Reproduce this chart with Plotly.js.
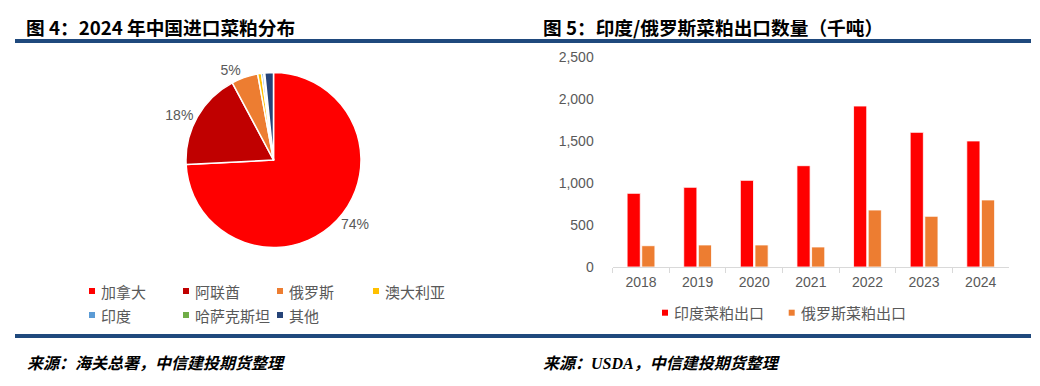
<!DOCTYPE html>
<html><head><meta charset="utf-8">
<script src="https://cdn.plot.ly/plotly-3.0.1.min.js"></script>
<style>html,body{margin:0;padding:0;background:#fff;} #chart{width:1040px;height:386px;}</style>
</head><body><div id="chart"></div>
<script>
// ---- data ----
const pieCategories = ['加拿大','阿联酋','俄罗斯','澳大利亚','印度','哈萨克斯坦','其他'];
const pieShares = [74.2, 18.0, 4.9, 0.7, 0.4, 0.2, 1.6];
const pieLabelShown = [true, true, true, false, false, false, false];
const pieColors = ['#FF0000','#C00000','#ED7D31','#FFC000','#5B9BD5','#70AD47','#264478'];

const years = ['2018','2019','2020','2021','2022','2023','2024'];
const indiaExports = [879, 951, 1034, 1209, 1921, 1607, 1504];
const russiaExports = [254, 263, 263, 239, 680, 605, 800];
const barSeriesNames = ['印度菜粕出口','俄罗斯菜粕出口'];
const barColors = ['#FF0000','#ED7D31'];
const yTicks = [0, 500, 1000, 1500, 2000, 2500];

const leftTitle = '图 4：2024 年中国进口菜粕分布';
const rightTitle = '图 5：印度/俄罗斯菜粕出口数量（千吨）';
const leftSource = '来源：海关总署，中信建投期货整理';
const rightSource = '来源：USDA，中信建投期货整理';

// ---- helpers (pixel -> paper) ----
const W = 1040, H = 386;
const X = px => px / W;
const Y = py => 1 - py / H;

const CJK = 'Noto Sans CJK SC, sans-serif';
const GRAY = '#595959';
const BLUE = '#1F497D';

const traces = [
  {
    type: 'pie', labels: pieCategories, values: pieShares,
    sort: false, direction: 'clockwise', rotation: 0,
    marker: {colors: pieColors, line: {color: '#ffffff', width: 1.5}},
    texttemplate: pieLabelShown.map(s => s ? '%{percent:.0%}' : ''),
    textposition: 'outside',
    textfont: {family: 'Liberation Sans, Arial, sans-serif', size: 14, color: GRAY},
    domain: {x: [X(186), X(361)], y: [Y(248), Y(72)]},
    showlegend: false, hoverinfo: 'label+percent'
  },
  {
    type: 'bar', x: years, y: indiaExports, name: barSeriesNames[0],
    marker: {color: barColors[0], line: {color: '#ffffff', width: 0.8}},
    xaxis: 'x', yaxis: 'y', showlegend: false
  },
  {
    type: 'bar', x: years, y: russiaExports, name: barSeriesNames[1],
    marker: {color: barColors[1], line: {color: '#ffffff', width: 0.8}},
    xaxis: 'x', yaxis: 'y', showlegend: false
  }
];

const shapes = [
  {type: 'line', xref: 'paper', yref: 'paper', x0: X(15), x1: X(1031), y0: Y(41), y1: Y(41), line: {color: BLUE, width: 4}},
  {type: 'line', xref: 'paper', yref: 'paper', x0: X(15), x1: X(1031), y0: Y(336), y1: Y(336), line: {color: BLUE, width: 4}}
];
const annotations = [];

function addText(txt, px, py, font, anchor) {
  annotations.push({text: txt, xref: 'paper', yref: 'paper', x: X(px), y: Y(py),
    xanchor: anchor || 'left', yanchor: 'middle', showarrow: false, font: font, borderpad: 0});
}
function addSquare(cx, cy, color, s) {
  shapes.push({type: 'rect', xref: 'paper', yref: 'paper',
    x0: X(cx - s/2), x1: X(cx + s/2), y0: Y(cy + s/2), y1: Y(cy - s/2),
    fillcolor: color, line: {width: 0}});
}

// titles
addText('<b>' + leftTitle + '</b>', 25, 26, {family: CJK, size: 18.7, color: '#000'});
addText('<b>' + rightTitle + '</b>', 542, 26, {family: CJK, size: 18.7, color: '#000'});
// sources
const srcFont = {family: 'Liberation Serif, Noto Sans CJK SC, serif', size: 16, color: '#000'};
addText('<b><i>' + leftSource + '</i></b>', 26, 363, srcFont);
addText('<b><i>' + rightSource + '</i></b>', 542, 363, srcFont);

// pie legend
const legFont = {family: CJK, size: 15, color: GRAY};
const pieCols = [92, 186, 280, 376];
const pieRows = [291, 315];
pieCategories.forEach((c, i) => {
  const cx = pieCols[i % 4], cy = pieRows[Math.floor(i / 4)];
  addSquare(cx, cy, pieColors[i], 6);
  addText(c, cx + 8, cy, legFont);
});

// bar legend
const barLegX = [665, 791.7];
barSeriesNames.forEach((n, i) => {
  addSquare(barLegX[i], 312.7, barColors[i], 6);
  addText(n, barLegX[i] + 8, 312.7, legFont);
});

const layout = {
  width: W, height: H,
  margin: {l: 0, r: 0, t: 0, b: 0},
  paper_bgcolor: '#ffffff', plot_bgcolor: '#ffffff',
  showlegend: false,
  barmode: 'group', bargap: 0.483, bargroupgap: 0.1,
  xaxis: {
    domain: [X(612.7), X(1009)], anchor: 'y', type: 'category',
    showline: true, linecolor: '#D9D9D9', linewidth: 1,
    ticks: 'outside', tickson: 'boundaries', ticklen: 5, tickcolor: '#D9D9D9',
    tickfont: {family: 'Liberation Sans, Arial, sans-serif', size: 14, color: GRAY},
    ticklabelstandoff: 2,
    showgrid: false, zeroline: false, fixedrange: true
  },
  yaxis: {
    domain: [Y(267), Y(57.5)], anchor: 'x', range: [0, 2500],
    tickvals: yTicks, tickformat: ',',
    showgrid: false, zeroline: false, showline: false, ticks: '',
    tickfont: {family: 'Liberation Sans, Arial, sans-serif', size: 14, color: GRAY},
    ticklabelstandoff: 18, fixedrange: true
  },
  shapes: shapes,
  annotations: annotations
};

Plotly.newPlot('chart', traces, layout, {displayModeBar: false, staticPlot: true});
</script>
</body></html>
